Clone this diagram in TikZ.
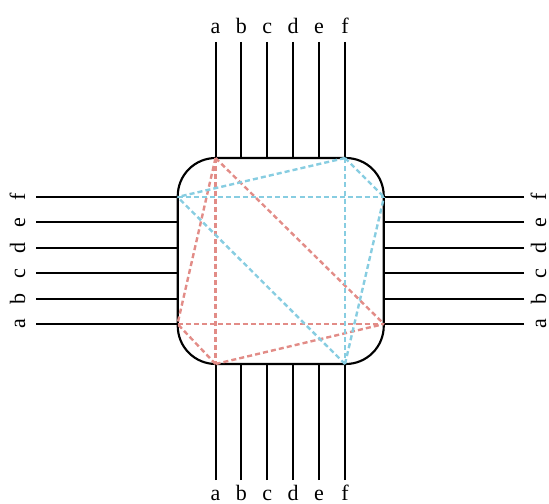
\documentclass[tikz,border=0pt]{standalone}
\usepackage{fontspec}
\setmainfont{Liberation Serif}
\usepackage{xcolor}
\definecolor{rojo}{RGB}{226, 140, 135}
\definecolor{celeste}{RGB}{135, 205, 225}
\usetikzlibrary{calc,positioning}
\tikzstyle{chip} =[draw, rectangle, rounded corners=28.5pt,
                   minimum width=154.5pt, minimum height=154.5pt,
                   line width=1.6pt, inner sep=0pt, outer sep=0pt]
\tikzstyle{wire} =[line width=1.5pt]
\tikzstyle{link} =[dash pattern=on 3.8pt off 2.3pt, line width=1.8pt]
\tikzstyle{pin}  =[inner sep=0pt, outer sep=0pt,
                   font=\fontsize{16.5}{19}\selectfont]

\begin{document}
\begin{tikzpicture}[x=0.75pt,y=-0.75pt]
    \useasboundingbox (0,0) rectangle (549,503);

    \node (chip) [chip] at (280.75,261) {};

    \foreach \p [count=\i from 0] in {a,b,c,d,e,f} {
        % top and bottom rows
        \coordinate (t\p) at (215.5+25.9*\i,158);
        \coordinate (b\p) at (215.5+25.9*\i,364);
        \coordinate (T\p) at (215.5+25.9*\i,42);
        \coordinate (B\p) at (215.5+25.9*\i,480);
        \draw (215.5+25.9*\i,34) node (nt\p) [pin, anchor=base] {\p};
        \draw (215.5+25.9*\i,500) node (nb\p) [pin, anchor=base] {\p};
        % left and right columns, a at the bottom
        \coordinate (l\p) at (177.5,324-25.4*\i);
        \coordinate (r\p) at (384,324-25.4*\i);
        \coordinate (L\p) at (36,324-25.4*\i);
        \coordinate (R\p) at (524,324-25.4*\i);
        \draw (25,324-25.4*\i) node (nl\p) [pin, anchor=base, rotate=90] {\p};
        \draw (546,324-25.4*\i) node (nr\p) [pin, anchor=base, rotate=90] {\p};

        \draw [wire] (T\p) -- (t\p);
        \draw [wire] (B\p) -- (b\p);
        \draw [wire] (L\p) -- (l\p);
        \draw [wire] (R\p) -- (r\p);
    }

    \foreach \u/\v in {ta/ba,la/ra,ta/la,ta/ra,ba/la,ba/ra}
        \draw [link,rojo] (\u) -- (\v);
    \foreach \u/\v in {tf/bf,lf/rf,tf/lf,tf/rf,bf/lf,bf/rf}
        \draw [link,celeste] (\u) -- (\v);

\end{tikzpicture}
\end{document}
